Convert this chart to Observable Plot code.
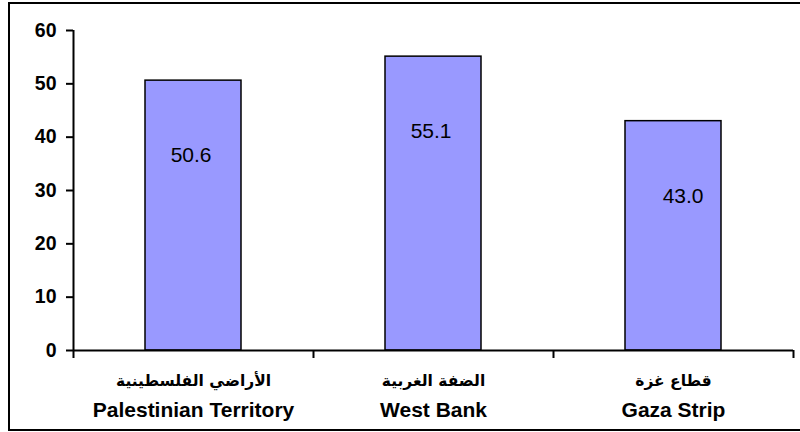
<!DOCTYPE html>
<html><head><meta charset="utf-8">
<script src="https://cdn.jsdelivr.net/npm/d3@7"></script>
<script src="https://cdn.jsdelivr.net/npm/@observablehq/plot@0.6"></script>
<style>
body{margin:0;background:#fff;overflow:hidden;}
#wrap{position:relative;width:800px;height:432px;overflow:hidden;}
#frame{position:absolute;left:8px;top:2px;width:820px;height:425px;border:2px solid #000;pointer-events:none;}
</style></head>
<body><div id="wrap"><div id="frame"></div></div>
<script>
const categoriesAr = ["الأراضي الفلسطينية", "الضفة الغربية", "قطاع غزة"];
const categoriesEn = ["Palestinian Territory", "West Bank", "Gaza Strip"];
const values = [50.6, 55.1, 43.0];
const yTicks = [0, 10, 20, 30, 40, 50, 60];

const data = values.map((v, i) => ({i, value: v, ar: categoriesAr[i], en: categoriesEn[i]}));
const font = "Liberation Sans, Arial, DejaVu Sans, sans-serif";

const chart = Plot.plot({
  width: 800, height: 432,
  marginLeft: 73, marginRight: 7, marginTop: 30, marginBottom: 82,
  style: {fontFamily: font, background: "transparent", overflow: "visible"},
  x: {type: "linear", domain: [0, categoriesEn.length], axis: null},
  y: {domain: [0, 60], axis: null},
  marks: [
    Plot.rectY(data, {x1: d => d.i + 0.3, x2: d => d.i + 0.7, y: "value", fill: "#9999FF", stroke: "#000", strokeWidth: 1.5}),
    Plot.axisY(yTicks, {tickSize: 7, tickPadding: 10, fontSize: 19.5, fontWeight: "bold", label: null, strokeWidth: 2, fill: "#000"}),
    Plot.axisX(d3.range(categoriesEn.length + 1), {tickSize: 8, tickFormat: () => "", strokeWidth: 2, label: null}),
    Plot.ruleX([0], {strokeWidth: 2}),
    Plot.ruleY([0], {strokeWidth: 2}),
    Plot.text(data, {x: d => d.i + 0.5 + (d.i === 2 ? 0.04 : -0.01), y: d => d.value - 14, text: d => d.value.toFixed(1), fontSize: 21, fill: "#000"}),
    Plot.text(data, {x: d => d.i + 0.5, y: 0, text: "ar", dy: 31, fontSize: 15.5, fontWeight: "bold", fill: "#000", fontFamily: "DejaVu Sans, sans-serif"}),
    Plot.text(data, {x: d => d.i + 0.5, y: 0, text: "en", dy: 60, fontSize: 21, fontWeight: "bold", fill: "#000"})
  ]
});
document.getElementById("wrap").prepend(chart);
</script>
</body></html>
